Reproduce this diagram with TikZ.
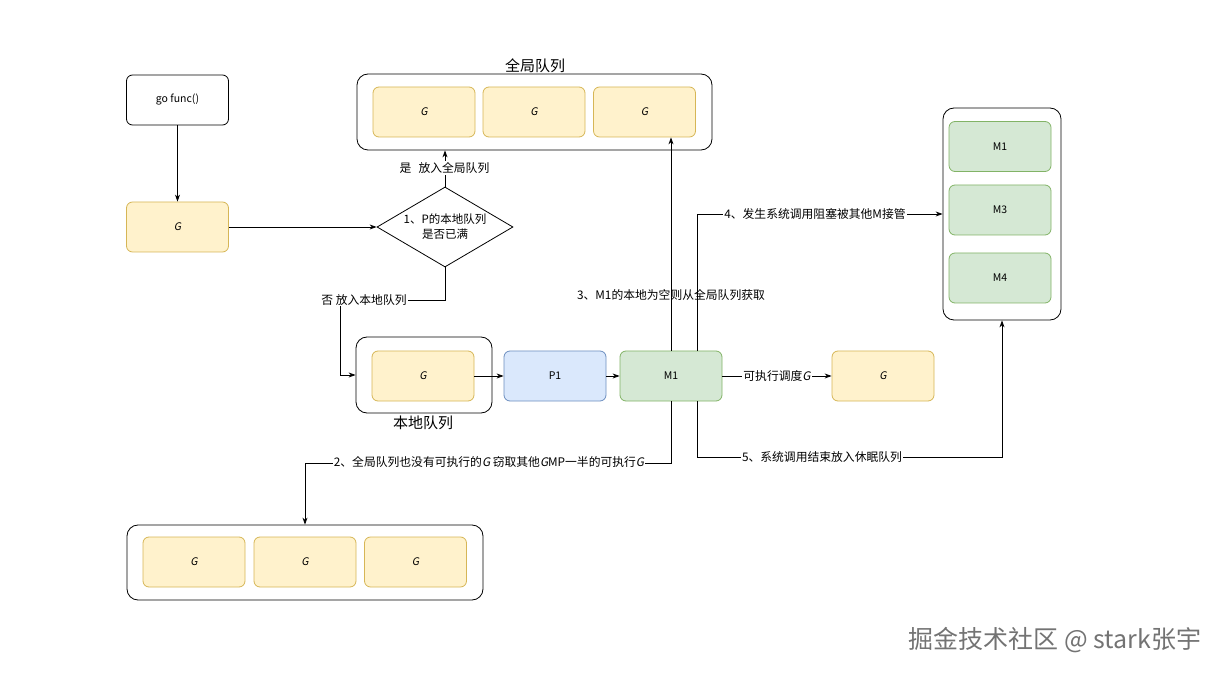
\documentclass[tikz,border=0pt]{standalone}
\usepackage{fontspec}
\setmainfont{Noto Sans CJK SC}[AutoFakeSlant=0.2]
\usetikzlibrary{arrows.meta,shapes.geometric}

\definecolor{gfill}{HTML}{FFF2CC}
\definecolor{gline}{HTML}{D6B656}
\definecolor{pfill}{HTML}{DAE8FC}
\definecolor{pline}{HTML}{6C8EBF}
\definecolor{mfill}{HTML}{D5E8D4}
\definecolor{mline}{HTML}{82B366}

\tikzset{
    box/.style={draw,rounded corners=6pt,minimum width=102pt,minimum height=50pt,
                inner sep=0pt,font=\fontsize{10.5}{12}\selectfont},
    gbox/.style={box,fill=gfill,draw=gline},
    pbox/.style={box,fill=pfill,draw=pline},
    mbox/.style={box,fill=mfill,draw=mline},
    queue/.style={draw,rounded corners=11pt,inner sep=0pt},
    arr/.style={-{Stealth[length=7pt,width=5pt]}},
    lbl/.style={fill=white,inner sep=1pt,font=\fontsize{11.8}{14}\selectfont},
}

\begin{document}
\begin{tikzpicture}[x=1pt,y=-1pt,line width=0.8pt]
        \useasboundingbox (0,0) rectangle (1224,676);

        % queues
        \node[queue,minimum width=355pt,minimum height=76pt] (gq) at (534.5,112) {};
        \node[queue,minimum width=136pt,minimum height=76pt] (lq) at (424,375) {};
        \node[queue,minimum width=118pt,minimum height=212pt] (mq) at (1002,214) {};
        \node[queue,minimum width=356pt,minimum height=75pt] (bq) at (305,562.5) {};
        \node[font=\fontsize{15}{18}\selectfont] at (535,66) {全局队列};
        \node[font=\fontsize{15}{18}\selectfont] at (423,423) {本地队列};

        \node[box,fill=white] (func) at (177.5,100) {go func()};
        \node[gbox] (g0) at (177.5,227) {\textit{G}};
        \node[draw,diamond,minimum width=136pt,minimum height=80pt,inner sep=0pt] (dec) at (445,227) {};
        \node[align=center,font=\fontsize{11.5}{15}\selectfont] at (dec) {1、P的本地队列\\是否已满};

        \node[gbox] (gq1) at (424,112) {\textit{G}};
        \node[gbox] (gq2) at (534,112) {\textit{G}};
        \node[gbox] (gq3) at (644.5,112) {\textit{G}};

        \node[gbox] (lg) at (423,376) {\textit{G}};
        \node[pbox] (p1) at (555,376) {P1};
        \node[mbox] (m1) at (671,376) {M1};
        \node[gbox] (gr) at (883,376) {\textit{G}};

        \node[mbox] (mq1) at (1000,146.5) {M1};
        \node[mbox] (mq3) at (1000,210) {M3};
        \node[mbox] (mq4) at (1000,278) {M4};

        \node[gbox] (bg1) at (194,562) {\textit{G}};
        \node[gbox] (bg2) at (305,562) {\textit{G}};
        \node[gbox] (bg3) at (415.5,562) {\textit{G}};

        % connectors
        \draw[arr] (func) -- (g0);
        \draw[arr] (g0.east) -- (dec.west);
        \draw[arr] (dec.north) -- (dec.north |- gq.south);
        \node[lbl] at (444.5,168) {是\hspace{0.6em}放入全局队列};
        \draw[arr] (dec.south) |- (340,300) |- (lq.west);
        \node[lbl] at (364,300) {否 放入本地队列};
        \draw[arr] (lg) -- (p1);
        \draw[arr] (p1) -- (m1);
        \draw[arr] (m1) -- node[lbl] {可执行调度\textit{G}} (gr);
        \draw[arr] (m1.north) -- (m1.north |- gq3.south);
        \node[font=\fontsize{11.8}{14}\selectfont] at (671,295) {3、M1的本地为空则从全局队列获取};
        \draw[arr] ([xshift=26pt]m1.north) |- (mq.west);
        \node[lbl] at (815,214) {4、发生系统调用阻塞被其他M接管};
        \draw[arr] ([xshift=26pt]m1.south) -- ++(0,56) -| (mq.south);
        \node[lbl] at (822,457) {5、系统调用结束放入休眠队列};
        \draw[arr] (m1.south) -- ++(0,62) -| (bq.north);
        \node[lbl] at (489,462) {2、全局队列也没有可执行的\textit{G} 窃取其他\textit{G}MP一半的可执行\textit{G}};

        \node[text=black!55,font=\fontsize{25}{28}\selectfont] at (1055,640) {掘金技术社区 @ stark张宇};
\end{tikzpicture}
\end{document}
